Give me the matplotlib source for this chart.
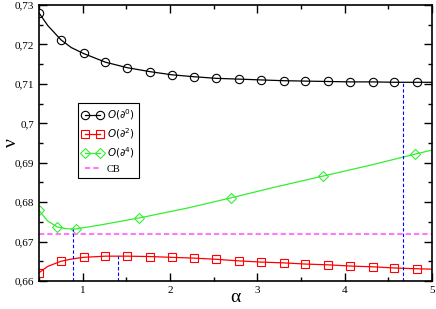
import numpy as np
import matplotlib
matplotlib.use('Agg')
import matplotlib.pyplot as plt
from matplotlib.ticker import MultipleLocator, FuncFormatter

# данные
x_d0 = [0.50, 0.60, 0.75, 0.87, 1.01, 1.26, 1.51, 1.77, 2.02, 2.28, 2.53, 2.79,
        3.04, 3.30, 3.55, 3.81, 4.06, 4.32, 4.57, 4.83, 5.00]
y_d0 = [0.7280, 0.7248, 0.7212, 0.7192, 0.7177, 0.7155, 0.7141, 0.7131, 0.7123, 0.7118,
        0.7114, 0.7112, 0.7110, 0.7108, 0.7107, 0.7106, 0.7105, 0.7105, 0.7104, 0.7104, 0.7104]
mark_d0 = [0, 2, 4, 5, 6, 7, 8, 9, 10, 11, 12, 13, 14, 15, 16, 17, 18, 19]

x_d2 = [0.50, 0.60, 0.75, 0.88, 1.01, 1.26, 1.40, 1.51, 1.77, 2.02, 2.28, 2.53, 2.79,
        3.04, 3.30, 3.55, 3.81, 4.06, 4.32, 4.57, 4.83, 5.00]
y_d2 = [0.6621, 0.6637, 0.6650, 0.6656, 0.6660, 0.6663, 0.6663, 0.6663, 0.6662, 0.6660,
        0.6658, 0.6655, 0.6651, 0.6648, 0.6646, 0.6643, 0.6641, 0.6638, 0.6636, 0.6633,
        0.6631, 0.6630]
mark_d2 = [0, 2, 4, 5, 7, 8, 9, 10, 11, 12, 13, 14, 15, 16, 17, 18, 19, 20]

x_d4 = [0.50, 0.60, 0.71, 0.80, 0.886, 0.92, 1.20, 1.65, 2.20, 2.70, 3.20, 3.75,
        4.30, 4.81, 5.00]
y_d4 = [0.6779, 0.6752, 0.6737, 0.6733, 0.6732, 0.6732, 0.6742, 0.6760, 0.6785,
        0.6811, 0.6838, 0.6866, 0.6894, 0.6922, 0.6932]
mark_d4 = [0, 2, 5, 7, 9, 11, 13]

cb_value = 0.672
vline_x = [0.886, 1.40, 4.666]
vline_top = [0.6732, 0.6663, 0.7105]

labels = [r'$O(\partial^0)$', r'$O(\partial^2)$', r'$O(\partial^4)$', 'CB']

fig = plt.figure(figsize=(4.36, 3.09), dpi=100)
ax = fig.add_axes([39/436, 28/309, 393/436, 276/309])

ax.plot(x_d0, y_d0, color='black', lw=0.9, marker='o', markevery=mark_d0, ms=6,
        mfc='none', mec='black', mew=0.8, label=labels[0])
ax.plot(x_d2, y_d2, color='red', lw=0.9, marker='s', markevery=mark_d2, ms=5.5,
        mfc='none', mec='red', mew=0.8, label=labels[1])
ax.plot(x_d4, y_d4, color='#33ee33', lw=0.9, marker='D', markevery=mark_d4, ms=5,
        mfc='none', mec='#33ee33', mew=0.8, label=labels[2])
ax.axhline(cb_value, color='#ff77ff', lw=1.5, ls=(0, (2.5, 1.5)), label=labels[3])

for xv, top in zip(vline_x, vline_top):
    ax.plot([xv, xv], [0.66, top], color='blue', lw=0.8, ls=(0, (3, 2)))

ax.set_xlim(0.5, 5)
ax.set_ylim(0.66, 0.73)
ax.xaxis.set_major_locator(MultipleLocator(1))
ax.xaxis.set_minor_locator(MultipleLocator(0.5))
ax.yaxis.set_major_locator(MultipleLocator(0.01))
ax.yaxis.set_minor_locator(MultipleLocator(0.005))
fmt = FuncFormatter(lambda v, p: ('%g' % round(v, 4)).replace('.', ','))
ax.xaxis.set_major_formatter(fmt)
ax.yaxis.set_major_formatter(fmt)
ax.tick_params(which='both', direction='in', top=True, right=True, labelsize=8)
ax.tick_params(which='major', length=6, width=1)
ax.tick_params(which='minor', length=3, width=1)
for lab in ax.get_xticklabels() + ax.get_yticklabels():
    lab.set_family('Liberation Serif')
for sp in ax.spines.values():
    sp.set_linewidth(1.2)

ax.set_xlabel('α', fontsize=14, family='Liberation Serif', labelpad=-4)
ax.set_ylabel('ν', fontsize=14, family='Liberation Serif', labelpad=-4)

leg = ax.legend(loc='upper left', bbox_to_anchor=(0.0985, 0.644), borderaxespad=0,
                fontsize=7.5, numpoints=2, handlelength=2.0, handletextpad=0.4,
                labelspacing=0.4, borderpad=0.4, fancybox=False, framealpha=1,
                edgecolor='black')
leg.get_frame().set_linewidth(0.8)
leg.get_texts()[3].set_family('Liberation Serif')

fig.savefig('out.png', dpi=100)
